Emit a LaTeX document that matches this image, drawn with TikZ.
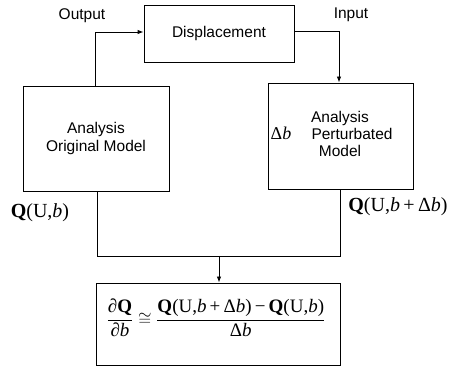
\documentclass[tikz,border=0pt]{standalone}
\usepackage{fontspec}
\setmainfont{Liberation Sans}
\newfontfamily\serifm{Liberation Serif}
\usetikzlibrary{arrows.meta}
\newcommand\smx[1]{\mbox{\serifm #1}}
\begin{document}
\begin{tikzpicture}[x=1pt,y=-1pt,
  box/.style={draw,line width=0.9pt,inner sep=0pt,align=center,font=\fontsize{15.5}{17.5}\selectfont},
  lbl/.style={inner sep=0pt,font=\fontsize{15.5}{17.5}\selectfont},
  mlbl/.style={inner sep=0pt,font=\serifm\fontsize{20}{22}\selectfont},
  conn/.style={line width=0.9pt},
  arr/.style={conn,-{Latex[length=6pt,width=4.5pt]}}]
\useasboundingbox (0,0) rectangle (456,366);
\node[box,minimum width=150pt,minimum height=57pt] (disp) at (219,33.5) {Displacement};
\node[box,minimum width=146pt,minimum height=105pt] (lbox) at (96,138.5) {Analysis\\[0pt]Original Model};
\node[box,minimum width=145pt,minimum height=106pt] (rbox) at (340.5,136) {};
\node[lbl] (ra) at (340,118) {Analysis};
\node[inner sep=0pt,font=\serifm\fontsize{18}{20}\selectfont] (rdb) at (281,133) {Δ\textit{b}};
\node[lbl] (rp) at (352,134) {Perturbated};
\node[lbl] (rm) at (340,151) {Model};
\node[box,minimum width=244pt,minimum height=82pt] (res) at (218,324) {};
\node[inner sep=0pt,font=\fontsize{19}{22}\selectfont] (frm) at (216,318)
  {$\displaystyle\frac{\smx{∂\textbf{Q}}}{\smx{∂\textit{b}}}\cong
   \frac{\smx{\textbf{Q}(U,\textit{b}\,+\,Δ\textit{b})\,−\,\textbf{Q}(U,\textit{b})}}{\smx{Δ\textit{b}}}$};
\node[lbl] (out) at (82,16) {Output};
\node[lbl] (in) at (351,15) {Input};
\node[mlbl] (ql) at (40,213) {\textbf{Q}(U,\textit{b})};
\node[mlbl] (qr) at (398,207) {\textbf{Q}(U,\textit{b}\,+\,Δ\textit{b})};
\coordinate (o1) at (95,32);
\coordinate (i1) at (339,31);
\coordinate (jl) at (97,256);
\coordinate (jr) at (340,256);
\coordinate (jm) at (219,256);
\draw[arr] (lbox.north -| o1) -- (o1) -- (disp.west |- o1);
\draw[arr] (disp.east |- i1) -- (i1) -- (rbox.north -| i1);
\draw[conn] (lbox.south -| jl) -- (jl) -- (jr) -- (rbox.south -| jr);
\draw[arr] (jm) -- (res.north -| jm);
\end{tikzpicture}
\end{document}
